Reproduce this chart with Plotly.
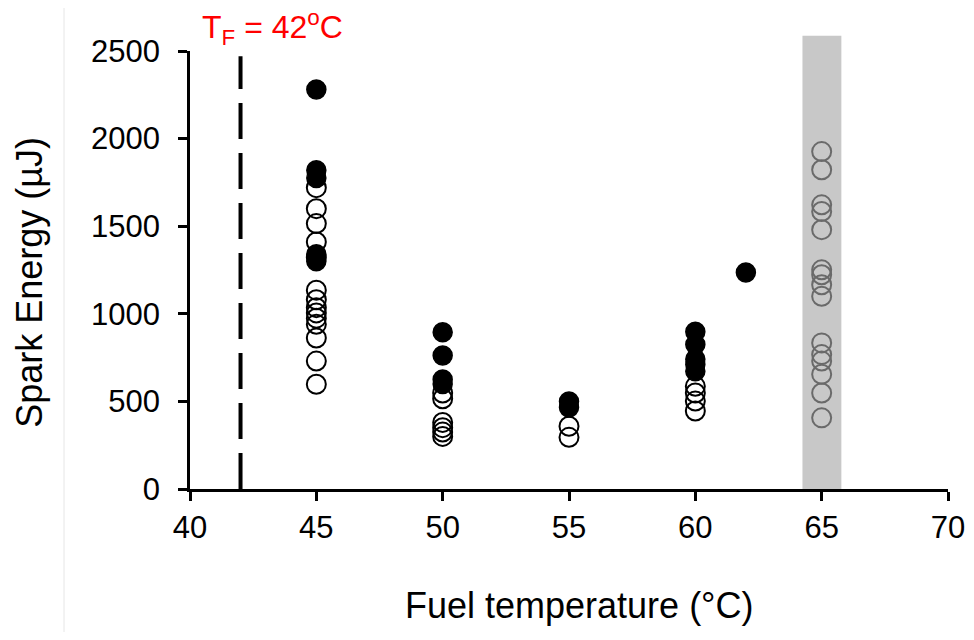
import plotly.graph_objects as go

# ---- data ----
temp_45 = 45
filled_45 = [2280, 1820, 1775, 1340, 1300]
open_45 = [1720, 1600, 1515, 1410, 1320, 1135, 1080, 1035, 1005, 975, 940, 862, 730, 598]

temp_50 = 50
filled_50 = [895, 762, 625, 600]
open_50 = [548, 515, 380, 350, 325, 300]

temp_55 = 55
filled_55 = [500, 465]
open_55 = [358, 295]

temp_60 = 60
filled_60 = [898, 825, 740, 710, 672]
open_60 = [586, 548, 502, 445]

temp_62 = 62
filled_62 = [1236]

temp_65 = 65
open_65 = [1926, 1822, 1622, 1584, 1480, 1251, 1223, 1166, 1100, 834, 767, 730, 655, 548, 406]

flash_point = 42
x_ticks = [40, 45, 50, 55, 60, 65, 70]
y_ticks = [0, 500, 1000, 1500, 2000, 2500]

FONT = "Liberation Sans, Arial, sans-serif"

filled_x = ([temp_45] * len(filled_45) + [temp_50] * len(filled_50) + [temp_55] * len(filled_55)
            + [temp_60] * len(filled_60) + [temp_62] * len(filled_62))
filled_y = filled_45 + filled_50 + filled_55 + filled_60 + filled_62
open_x = ([temp_45] * len(open_45) + [temp_50] * len(open_50) + [temp_55] * len(open_55)
          + [temp_60] * len(open_60))
open_y = open_45 + open_50 + open_55 + open_60

fig = go.Figure()

# grey band behind 65 °C data
fig.add_shape(type="rect", xref="x", yref="paper", x0=64.24, x1=65.78, y0=0, y1=1.035,
              fillcolor="#c8c8c8", line=dict(width=0), layer="below")

# dashed flash-point line
fig.add_trace(go.Scatter(x=[flash_point, flash_point], y=[0, 2470], mode="lines",
                         line=dict(color="black", width=4, dash="36px,14px"),
                         hoverinfo="skip", showlegend=False))

fig.add_trace(go.Scatter(x=open_x, y=open_y, mode="markers", showlegend=False,
                         marker=dict(symbol="circle-open", size=19, color="black",
                                     line=dict(width=2, color="black"))))
fig.add_trace(go.Scatter(x=[temp_65] * len(open_65), y=open_65, mode="markers", showlegend=False,
                         marker=dict(symbol="circle-open", size=19, color="#6a6a6a",
                                     line=dict(width=2, color="#6a6a6a"))))
fig.add_trace(go.Scatter(x=filled_x, y=filled_y, mode="markers", showlegend=False,
                         marker=dict(symbol="circle", size=19, color="black",
                                     line=dict(width=1.5, color="black"))))

# faint border line at left of the picture
fig.add_shape(type="line", xref="paper", yref="paper", x0=-0.1662, x1=-0.1662, y0=-0.35, y1=1.12,
              line=dict(color="#e6e6e6", width=1))

fig.add_annotation(text="T<sub>F</sub> = 42<sup>o</sup>C", xref="paper", yref="paper",
                   x=0.0135, y=1.053, xanchor="left", yanchor="middle", showarrow=False,
                   font=dict(family=FONT, size=32, color="#ff0000"))

fig.add_annotation(text="Fuel temperature (°C)", xref="paper", yref="paper",
                   x=0.514, y=-0.265, xanchor="center", yanchor="middle", showarrow=False,
                   font=dict(family=FONT, size=36, color="black"))
fig.add_annotation(text="Spark Energy (µJ)", xref="paper", yref="paper",
                   x=-0.212, y=0.4715, xanchor="center", yanchor="middle", showarrow=False,
                   textangle=-90, font=dict(family=FONT, size=36, color="black"))

# the page body has an 8px margin: size the figure so the plot area lands where the reference has it
fig.update_layout(
    width=958, height=624,
    margin=dict(l=182, r=18, t=43, b=143, autoexpand=False),
    plot_bgcolor="white", paper_bgcolor="white",
    font=dict(family=FONT, size=31, color="black"),
    xaxis=dict(range=[40, 70], tickvals=x_ticks, showgrid=False, zeroline=False,
               showline=True, linecolor="black", linewidth=2.5,
               ticks="outside", ticklen=9, tickwidth=2.5, tickcolor="black",
               ticklabelstandoff=0, automargin=False, ticklabeloverflow="allow"),
    yaxis=dict(range=[0, 2500], tickvals=y_ticks, showgrid=False, zeroline=False,
               showline=True, linecolor="black", linewidth=2.5,
               ticks="outside", ticklen=9, tickwidth=2.5, tickcolor="black",
               ticklabelstandoff=12, automargin=False),
)

fig.write_html("out.html")
